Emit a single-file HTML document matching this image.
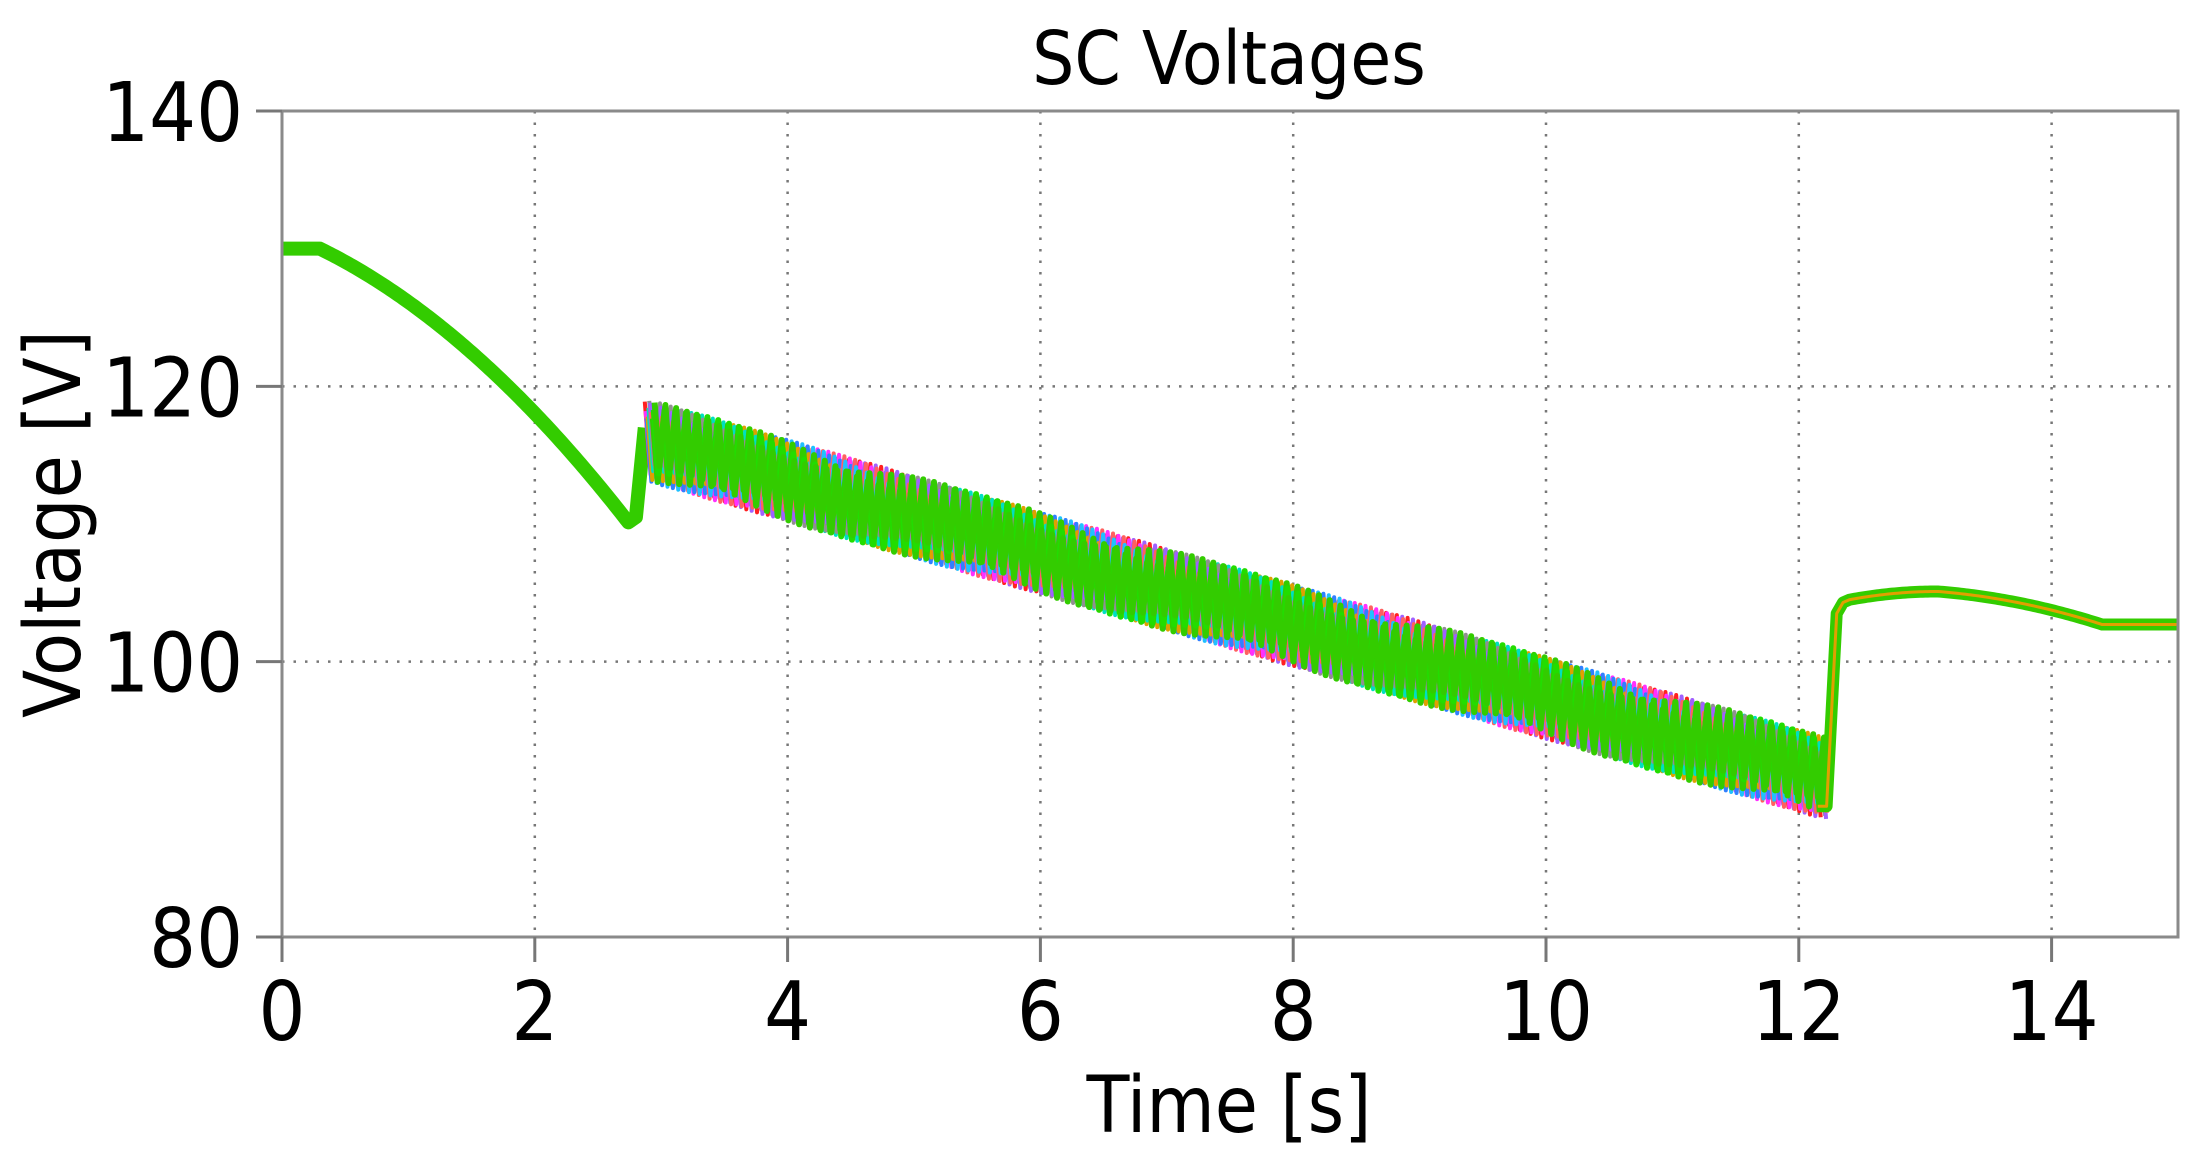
<!DOCTYPE html>
<html><head><meta charset="utf-8"><style>
html,body{margin:0;padding:0;background:#fff;}
svg{display:block;}
text{font-family:"DejaVu Sans Condensed","DejaVu Sans","Liberation Sans",sans-serif;fill:#000;}
</style></head><body>
<svg id="s" width="2202" height="1170" xmlns="http://www.w3.org/2000/svg">
<rect width="2202" height="1170" fill="#fff"/>
<g id="grid" stroke="#777" stroke-width="2.5" stroke-dasharray="2.5,9"></g>
<g id="data" fill="none" stroke-linejoin="round"></g>
<rect x="282" y="111" width="1896" height="826" fill="none" stroke="#8a8a8a" stroke-width="3"/>
<g id="ticks" stroke="#777" stroke-width="3"></g>
<g font-size="82" text-anchor="end" id="ylab"></g>
<g font-size="82" text-anchor="middle" id="xlab"></g>
<text x="1229" y="84" font-size="74" text-anchor="middle">SC Voltages</text>
<text x="1229" y="1132" font-size="78" text-anchor="middle">Time [s]</text>
<text transform="translate(80,524) rotate(-90)" font-size="78" text-anchor="middle">Voltage [V]</text>
</svg>
<script>
var NS="http://www.w3.org/2000/svg";
function X(t){return 282+t*126.4;}
function Y(v){return 111+(140-v)*13.767;}
function el(p,n,a,txt){var e=document.createElementNS(NS,n);for(var k in a)e.setAttribute(k,a[k]);if(txt!=null)e.textContent=txt;document.getElementById(p).appendChild(e);}
for(var t=2;t<15;t+=2)el("grid","line",{x1:X(t),x2:X(t),y1:111,y2:937});
[100,120].forEach(function(v){el("grid","line",{x1:282,x2:2178,y1:Y(v),y2:Y(v)});});
for(var t=0;t<=14;t+=2){el("ticks","line",{x1:X(t),x2:X(t),y1:937,y2:962});el("xlab","text",{x:X(t),y:1040},String(t));}
[80,100,120,140].forEach(function(v){el("ticks","line",{x1:256,x2:282,y1:Y(v),y2:Y(v)});el("ylab","text",{x:243,y:Y(v)+30},String(v));});
var p=[];
for(var t=0;t<=2.75;t+=0.02){var v;if(t<0.3)v=130;else{var u=(t-0.3)/2.45;v=130-20*(0.55*u+0.45*u*u);}p.push(X(t)+","+Y(v));}
p.push(X(2.8)+","+Y(110.5));p.push(X(2.87)+","+Y(117));
el("data","polyline",{points:p.join(" "),stroke:"#33cc00","stroke-width":14});
function C(t){return 116-(t-2.9)*(24.5/9.3);}
var cols=["#ff2020","#ff30ff","#3080ff","#e0a000","#00e0c0","#909090","#a060ff","#ff6060","#20c0ff","#33cc00","#22dd00","#33cc00"];
for(var k=0;k<cols.length;k++){
 var q=[],per=0.085,ph=k*per/cols.length;
 for(var t=2.87;t<=12.2;t+=per){
  var tt=t+ph;if(tt>12.2)break;
  var c=C(tt)+(Math.sin(k*7.3+tt*3)*0.7);
  q.push(X(tt)+","+Y(c+2.3));
  q.push(X(tt+per*0.45)+","+Y(c-2.3));
 }
 el("data","polyline",{points:q.join(" "),stroke:cols[k],"stroke-width":k>=9?6:4});
}
var r=[X(12.15)+","+Y(89.5),X(12.22)+","+Y(89.5),X(12.3)+","+Y(103.5),X(12.35)+","+Y(104.3)];
for(var t=12.4;t<=15;t+=0.02){var v;if(t<13.1)v=104.5+0.6*(1-Math.pow((13.1-t)/0.7,2));else if(t<14.4){var u=(t-13.1)/1.3;v=105.1-2.4*u*u*0.6-2.4*u*0.4;}else v=102.7;r.push(X(t)+","+Y(v));}
el("data","polyline",{points:r.join(" "),stroke:"#33cc00","stroke-width":12});
el("data","polyline",{points:r.join(" "),stroke:"#e0a000","stroke-width":3});
</script>
</body></html>
